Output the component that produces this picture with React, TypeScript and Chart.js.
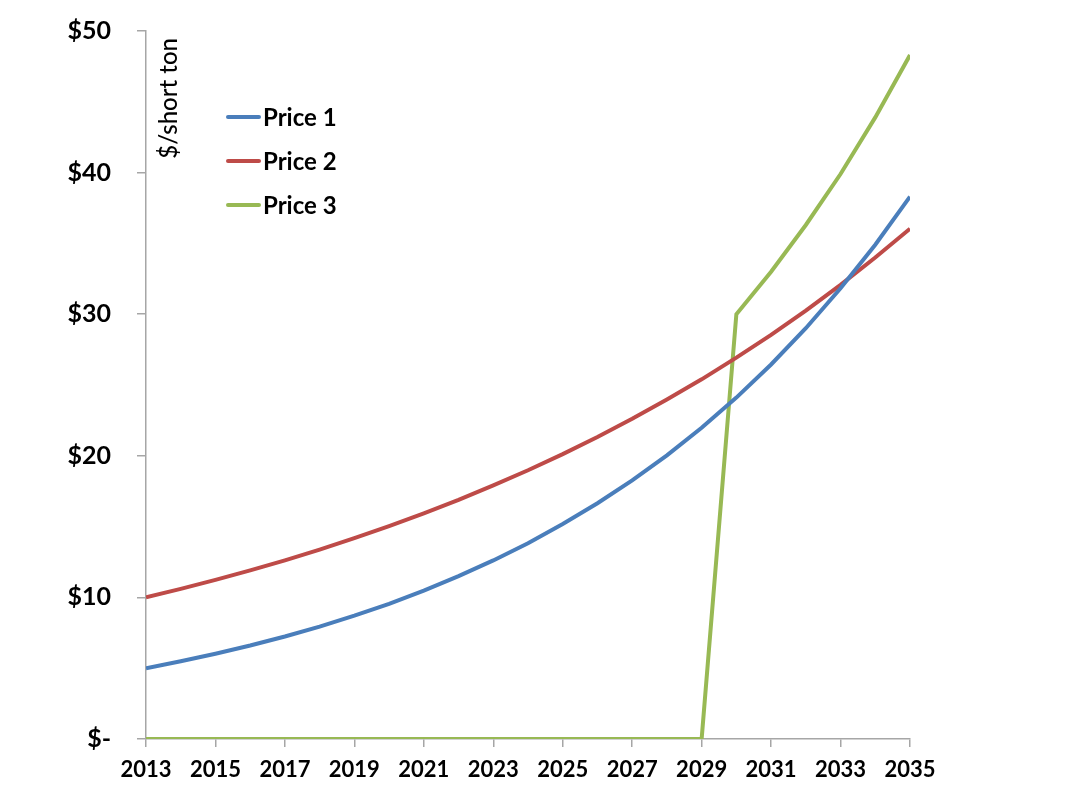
import React, { useEffect, useRef } from "react";
import { Chart, registerables } from "chart.js";

Chart.register(...registerables);

const years = [2013, 2014, 2015, 2016, 2017, 2018, 2019, 2020, 2021, 2022, 2023, 2024, 2025, 2026, 2027, 2028, 2029, 2030, 2031, 2032, 2033, 2034, 2035];
const price1 = [5.0, 5.49, 6.02, 6.6, 7.24, 7.94, 8.71, 9.55, 10.48, 11.5, 12.61, 13.83, 15.18, 16.65, 18.26, 20.03, 21.98, 24.11, 26.45, 29.01, 31.83, 34.91, 38.3];
const price2 = [10.0, 10.6, 11.24, 11.91, 12.62, 13.38, 14.19, 15.04, 15.94, 16.89, 17.91, 18.98, 20.12, 21.33, 22.61, 23.97, 25.4, 26.93, 28.54, 30.26, 32.07, 34.0, 36.04];
const price3 = [0, 0, 0, 0, 0, 0, 0, 0, 0, 0, 0, 0, 0, 0, 0, 0, 0, 30.0, 33.0, 36.3, 39.9, 43.9, 48.3];
const seriesNames = ["Price 1", "Price 2", "Price 3"];
const seriesColors = ["#4A7EBB", "#BE4B48", "#98B954"];
const yTicks = [0, 10, 20, 30, 40, 50];
const xTickYears = [2013, 2015, 2017, 2019, 2021, 2023, 2025, 2027, 2029, 2031, 2033, 2035];
const yAxisTitle = "$/short ton";

const FONT = "Lato, 'Open Sans', sans-serif";
const AXIS_GRAY = "#a6a6a6";

const overlayPlugin = {
  id: "overlay",
  afterDraw(chart: any) {
    const ctx = chart.ctx;
    ctx.save();
    // y-axis title inside the plot
    ctx.fillStyle = "#000";
    ctx.font = `500 24px ${FONT}`;
    ctx.translate(169, 38);
    ctx.rotate(-Math.PI / 2);
    ctx.textAlign = "right";
    ctx.textBaseline = "middle";
    ctx.fillText(yAxisTitle, 0, 0);
    ctx.restore();

    // legend
    ctx.save();
    ctx.font = `bold 24px ${FONT}`;
    ctx.textAlign = "left";
    ctx.textBaseline = "middle";
    chart.data.datasets.forEach((ds: any, i: number) => {
      const y = 117 + i * 44;
      ctx.strokeStyle = ds.borderColor;
      ctx.lineWidth = 4;
      ctx.lineCap = "round";
      ctx.beginPath();
      ctx.moveTo(228, y);
      ctx.lineTo(259, y);
      ctx.stroke();
      ctx.fillStyle = "#000";
      ctx.fillText(ds.label, 263, y + 1);
    });
    ctx.restore();
  },
};

export default function App() {
  const ref = useRef<HTMLCanvasElement | null>(null);
  useEffect(() => {
    if (!ref.current) return;
    const mk = (vals: number[]) => years.map((x, i) => ({ x, y: vals[i] }));
    const all = [price1, price2, price3];
    const chart = new Chart(ref.current, {
      type: "line",
      data: {
        datasets: all.map((vals, i) => ({
          label: seriesNames[i],
          data: mk(vals),
          borderColor: seriesColors[i],
          backgroundColor: seriesColors[i],
          borderWidth: 4,
          pointRadius: 0,
          tension: 0,
          fill: false,
        })),
      },
      options: {
        animation: false,
        responsive: false,
        layout: { padding: { left: 0, top: 31, right: 179, bottom: 0 } },
        plugins: { legend: { display: false }, tooltip: { enabled: false } },
        scales: {
          x: {
            type: "linear",
            min: 2013,
            max: 2035,
            afterFit: (s: any) => {
              s.height = 54;
              s.paddingLeft = 0;
              s.paddingRight = 0;
            },
            afterBuildTicks: (s: any) => {
              s.ticks = xTickYears.map((v) => ({ value: v }));
            },
            ticks: {
              stepSize: 2,
              autoSkip: false,
              maxRotation: 0,
              padding: 10,
              color: "#000",
              font: { family: FONT, size: 22, weight: "bold" },
              callback: (v: any) => String(v),
            },
            grid: {
              display: true,
              drawOnChartArea: false,
              drawTicks: true,
              tickLength: 8,
              color: AXIS_GRAY,
              lineWidth: 1.5,
            },
            border: { display: true, color: AXIS_GRAY, width: 1.5 },
          },
          y: {
            type: "linear",
            min: 0,
            max: 50,
            afterFit: (s: any) => {
              s.width = 146;
              s.paddingTop = 0;
              s.paddingBottom = 0;
            },
            afterBuildTicks: (s: any) => {
              s.ticks = yTicks.map((v) => ({ value: v }));
            },
            ticks: {
              stepSize: 10,
              padding: 26,
              color: "#000",
              font: { family: FONT, size: 25, weight: "bold" },
              callback: (v: any) => (v === 0 ? "$-" : "$" + v),
            },
            grid: {
              display: true,
              drawOnChartArea: false,
              drawTicks: true,
              tickLength: 9,
              color: AXIS_GRAY,
              lineWidth: 1.5,
            },
            border: { display: true, color: AXIS_GRAY, width: 1.5 },
          },
        },
      },
      plugins: [overlayPlugin],
    } as any);
    return () => chart.destroy();
  }, []);
  return (
    <div style={{ position: "absolute", left: 0, top: 0, width: 1089, height: 793, background: "#fff" }}>
      <canvas ref={ref} width={1089} height={793} style={{ display: "block" }} />
    </div>
  );
}
